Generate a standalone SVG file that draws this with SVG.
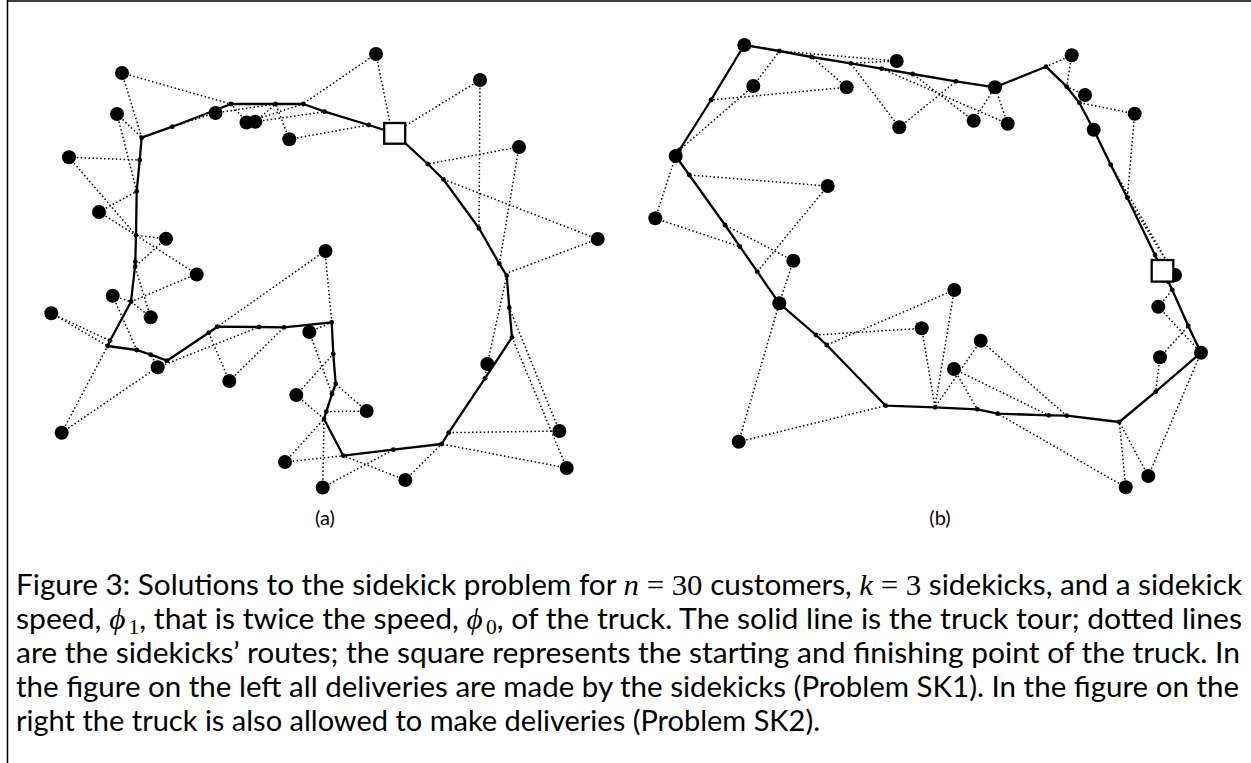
<svg xmlns="http://www.w3.org/2000/svg" width="1251" height="763" viewBox="0 0 1251 763">
<style>
.dot{stroke:#000;stroke-width:1.5;stroke-dasharray:1.5 2.4;fill:none}
.truck{stroke:#000;stroke-width:2.3;fill:none;stroke-linejoin:round;marker-mid:url(#v)}
.cust{fill:#000}
.depot{fill:#fff;stroke:#000;stroke-width:2.3}
.cap{font-family:Lato,"Open Sans",sans-serif;font-size:28px;fill:#000}
.mi{font-family:"Liberation Serif",serif;font-style:italic;font-size:29px}
.mr{font-family:"Liberation Serif",serif;font-size:29px}
.sub{font-family:"Liberation Serif",serif;font-size:20px}
.lbl{font-family:Lato,"Open Sans",sans-serif;font-size:20px;fill:#000}
.frame{stroke:#000;stroke-width:1.5}
</style>
<defs>
<marker id="v" markerUnits="userSpaceOnUse" markerWidth="6" markerHeight="6" refX="3" refY="3"><circle cx="3" cy="3" r="2.4" fill="#000"/></marker>
</defs>
<rect width="1251" height="763" fill="#fff"/>
<line class="frame" x1="7.5" y1="0" x2="7.5" y2="763"/>
<line class="frame" x1="7" y1="1" x2="1251" y2="1"/>

<g id="connectors-a">
<path class="dot" d="M122,73L141.7,137.7M122,73L231,104M117,114L141.7,137.7M117,114L136.7,191.3M215,113L172.3,126.7M215,113L275.7,104M246.7,122.3L231,104M246.7,122.3L303.3,104M255.3,121.7L275.7,104M255.3,121.7L324.7,111.7M289.3,139.3L275.7,104M289.3,139.3L368.7,125M376,54L302.7,104M376,54L390,123M480,80L405,126M480,80L479,228.3M519,147L427.7,164M519,147L499.3,263.7M597.7,239L443.3,179.3M597.7,239L506.7,273.3M69,157.3L139.7,160M69,157.3L136,235.3M99,212L136.7,191.3M99,212L136,235.3M166,238.7L136,235.3M166,238.7L135,266.7M196.7,274L136,235.3M196.7,274L131,301.7M112.7,295.7L131,301.7M112.7,295.7L136.7,350M51.3,313.3L110,340.7M51.3,313.3L107.7,346M150.7,317.3L135,266.7M150.7,317.3L131,301.7M157.7,367.3L150.7,354.7M157.7,367.3L259,327M229.3,381L208.7,332.7M229.3,381L284,327.3M61.7,432.7L107.7,346M61.7,432.7L167,360.7M309.3,332L331.7,322.3M309.3,332L332,394M325,251L217.3,326.7M325,251L331.7,322.3M296.3,395L333.3,354M296.3,395L324,419M366.7,411L335.7,384M366.7,411L326.3,411.7M285,462L324,419M285,462L343.3,455.7M322.7,487.5L324,419M322.7,487.5L393.3,449.7M405.3,480L343.3,455.7M405.3,480L441.7,444M487.3,364L506.7,275.7M487.3,364L485,378.3M559.3,431L509.3,307.7M559.3,431L448.7,432.7M566.7,468L512,337.3M566.7,468L441.7,444"/>
<polyline class="truck" points="394.7,133.3 427.7,164 443.3,179.3 479,228.3 499.3,263.7 506.7,275.7 509.3,307.7 512,337.3 485,378.3 448.7,432.7 441.7,444 393.3,449.7 343.3,455.7 324,419 326.3,411.7 332,394 335.7,384 333.3,354 331.7,322.3 284,327.3 259,327 217.3,326.7 208.7,332.7 167,360.7 150.7,354.7 136.7,350 107.7,346 110,340.7 131,301.7 135,266.7 135.3,261.7 136,235.3 136.7,191.3 139.7,160 141.7,137.7 172.3,126.7 231,104 275.7,104 303.3,104 324.7,111.7 368.7,125 394.7,133.3"/>
</g>

<g id="customers-a">
<g id="a1"><circle class="cust" cx="122" cy="73" r="7"/></g>
<g id="a2"><circle class="cust" cx="117" cy="114" r="7"/></g>
<g id="a3"><circle class="cust" cx="215.5" cy="113" r="7"/></g>
<g id="a4"><circle class="cust" cx="246.5" cy="122.5" r="7"/></g>
<g id="a5"><circle class="cust" cx="255.3" cy="121.7" r="7"/></g>
<g id="a6"><circle class="cust" cx="289.3" cy="139.3" r="7"/></g>
<g id="a7"><circle class="cust" cx="376" cy="54" r="7"/></g>
<g id="a8"><circle class="cust" cx="480" cy="80" r="7"/></g>
<g id="a9"><circle class="cust" cx="519" cy="147" r="7"/></g>
<g id="a10"><circle class="cust" cx="597.7" cy="239" r="7"/></g>
<g id="a11"><circle class="cust" cx="69" cy="157.3" r="7"/></g>
<g id="a12"><circle class="cust" cx="99" cy="212" r="7"/></g>
<g id="a13"><circle class="cust" cx="166" cy="238.7" r="7"/></g>
<g id="a14"><circle class="cust" cx="196.7" cy="274.5" r="7"/></g>
<g id="a15"><circle class="cust" cx="112.7" cy="295.7" r="7"/></g>
<g id="a16"><circle class="cust" cx="51.3" cy="313.3" r="7"/></g>
<g id="a17"><circle class="cust" cx="150.7" cy="317.3" r="7"/></g>
<g id="a18"><circle class="cust" cx="157.7" cy="367.3" r="7"/></g>
<g id="a19"><circle class="cust" cx="229.3" cy="381" r="7"/></g>
<g id="a20"><circle class="cust" cx="61.7" cy="432.7" r="7"/></g>
<g id="a21"><circle class="cust" cx="309.3" cy="332" r="7"/></g>
<g id="a22"><circle class="cust" cx="325.5" cy="251" r="7"/></g>
<g id="a23"><circle class="cust" cx="296.3" cy="395" r="7"/></g>
<g id="a24"><circle class="cust" cx="366.7" cy="411" r="7"/></g>
<g id="a25"><circle class="cust" cx="285" cy="462" r="7"/></g>
<g id="a26"><circle class="cust" cx="322.7" cy="487.5" r="7"/></g>
<g id="a27"><circle class="cust" cx="405.3" cy="480" r="7"/></g>
<g id="a28"><circle class="cust" cx="487.3" cy="364" r="7"/></g>
<g id="a29"><circle class="cust" cx="559.3" cy="431" r="7"/></g>
<g id="a30"><circle class="cust" cx="566.7" cy="468" r="7"/></g>
</g>
<g id="depot-a"><rect class="depot" x="384.2" y="123" width="21" height="20.7"/></g>
<text class="lbl" x="325" y="525" text-anchor="middle">(a)</text>

<g id="connectors-b">
<path class="dot" d="M896.7,61L779.3,51M896.7,61L850.7,63.3M753.3,86L779.3,51M753.3,86L679.5,150M846.7,87.3L811.7,57M846.7,87.3L711,100M899.3,127.3L850.7,63.3M899.3,127.3L956,81.3M973.7,120.7L912.7,74M973.7,120.7L995,87.3M1007.7,123.7L881.7,68.7M1007.7,123.7L995,87.3M1071.7,55.3L1046,66.7M1071.7,55.3L1066.7,86.7M1085,95L1066.7,86.7M1085,95L1079.3,102.7M1134.7,113.7L1079.3,102.7M1134.7,113.7L1127.3,197.7M1175,275L1110.7,164.7M1175,275L1127.3,197.7M827.7,186L689.3,175M827.7,186L757.3,271.7M655.3,218.3L675.7,156M655.3,218.3L740,246.7M793.3,260.7L725,225M793.3,260.7L779.3,303.3M738.7,441.7L779.3,303.3M738.7,441.7L885.7,405.7M921.7,328.3L816,335M921.7,328.3L935,407.3M954.3,290L826.7,345M954.3,290L935,406.7M980.7,340.7L935,407.3M980.7,340.7L1066.7,415.7M954,369L977.3,409.3M954,369L1048.7,415.3M1125.7,487.3L997.7,413.7M1125.7,487.3L1119.3,422M1148.3,476L1119.3,422M1148.3,476L1201,352.7M1160,357.3L1155.7,391.7M1160,357.3L1188.3,326M1158.3,306.7L1172.3,290M1158.3,306.7L1201,352.7"/>
<polyline class="truck" points="1162.5,270.8 1168.3,281.7 1172.3,290 1188.3,326 1201,352.7 1155.7,391.7 1119.3,422 1066.7,415.7 1048.7,415.3 997.7,413.7 977.3,409.3 935,407.3 885.7,405.7 826.7,345 816,335 779.3,303.3 757.3,271.7 740,246.7 725,225 689.3,175 675.7,156 679.5,150 711,100 744.3,45 779.3,51 811.7,57 850.7,63.3 881.7,68.7 912.7,74 956,81.3 995,87.3 1046,66.7 1066.7,86.7 1079.3,102.7 1093.7,129.7 1110.7,164.7 1127.3,197.7 1155,255 1162.5,270.8"/>
</g>

<g id="customers-b">
<g id="b1"><circle class="cust" cx="744.3" cy="45" r="7"/></g>
<g id="b2"><circle class="cust" cx="896.7" cy="61" r="7"/></g>
<g id="b3"><circle class="cust" cx="753.3" cy="86" r="7"/></g>
<g id="b4"><circle class="cust" cx="846.7" cy="87.3" r="7"/></g>
<g id="b5"><circle class="cust" cx="899.3" cy="127.3" r="7"/></g>
<g id="b6"><circle class="cust" cx="675.7" cy="156" r="7"/></g>
<g id="b7"><circle class="cust" cx="827.7" cy="186" r="7"/></g>
<g id="b8"><circle class="cust" cx="655.3" cy="218.3" r="7"/></g>
<g id="b9"><circle class="cust" cx="793.3" cy="260.7" r="7"/></g>
<g id="b10"><circle class="cust" cx="779.3" cy="303.3" r="7"/></g>
<g id="b11"><circle class="cust" cx="921.7" cy="328.3" r="7"/></g>
<g id="b12"><circle class="cust" cx="738.7" cy="441.7" r="7"/></g>
<g id="b13"><circle class="cust" cx="1071.7" cy="55.3" r="7"/></g>
<g id="b14"><circle class="cust" cx="995" cy="87.3" r="7"/></g>
<g id="b15"><circle class="cust" cx="1085" cy="95" r="7"/></g>
<g id="b16"><circle class="cust" cx="1134.7" cy="113.7" r="7"/></g>
<g id="b17"><circle class="cust" cx="973.7" cy="120.7" r="7"/></g>
<g id="b18"><circle class="cust" cx="1007.7" cy="123.7" r="7"/></g>
<g id="b19"><circle class="cust" cx="1093.7" cy="129.7" r="7"/></g>
<g id="b20"><circle class="cust" cx="954.3" cy="290" r="7"/></g>
<g id="b21"><circle class="cust" cx="980.7" cy="340.7" r="7"/></g>
<g id="b22"><circle class="cust" cx="954" cy="369" r="7"/></g>
<g id="b23"><circle class="cust" cx="1158.3" cy="306.7" r="7"/></g>
<g id="b24"><circle class="cust" cx="1160" cy="357.3" r="7"/></g>
<g id="b25"><circle class="cust" cx="1201" cy="352.7" r="7"/></g>
<g id="b26"><circle class="cust" cx="1148.3" cy="476" r="7"/></g>
<g id="b27"><circle class="cust" cx="1125.7" cy="487.3" r="7"/></g>
<g id="b28"><circle class="cust" cx="1175" cy="275" r="7"/></g>
</g>
<g id="depot-b"><rect class="depot" x="1151.7" y="260" width="21.6" height="21.6"/></g>
<text class="lbl" x="940" y="525" text-anchor="middle">(b)</text>

<g id="caption">
<text class="cap" x="16" y="595" textLength="1226" lengthAdjust="spacingAndGlyphs">Figure 3: Solutions to the sidekick problem for <tspan class="mi">n</tspan><tspan class="mr"> = 30</tspan> customers, <tspan class="mi">k</tspan><tspan class="mr"> = 3</tspan> sidekicks, and a sidekick</text>
<text class="cap" x="16" y="629" textLength="1226" lengthAdjust="spacingAndGlyphs">speed, <tspan class="mi">ϕ</tspan><tspan class="sub" dx="3" dy="5">1</tspan><tspan dy="-5">, that is twice the speed, </tspan><tspan class="mi">ϕ</tspan><tspan class="sub" dx="3" dy="5">0</tspan><tspan dy="-5">, of the truck.  The solid line is the truck tour; dotted lines</tspan></text>
<text class="cap" x="16" y="663" textLength="1224" lengthAdjust="spacingAndGlyphs">are the sidekicks’ routes; the square represents the starting and finishing point of the truck.  In</text>
<text class="cap" x="16" y="697" textLength="1223" lengthAdjust="spacingAndGlyphs">the figure on the left all deliveries are made by the sidekicks (Problem SK1).  In the figure on the</text>
<text class="cap" x="16" y="731" textLength="804" lengthAdjust="spacingAndGlyphs">right the truck is also allowed to make deliveries (Problem SK2).</text>
</g>
</svg>
